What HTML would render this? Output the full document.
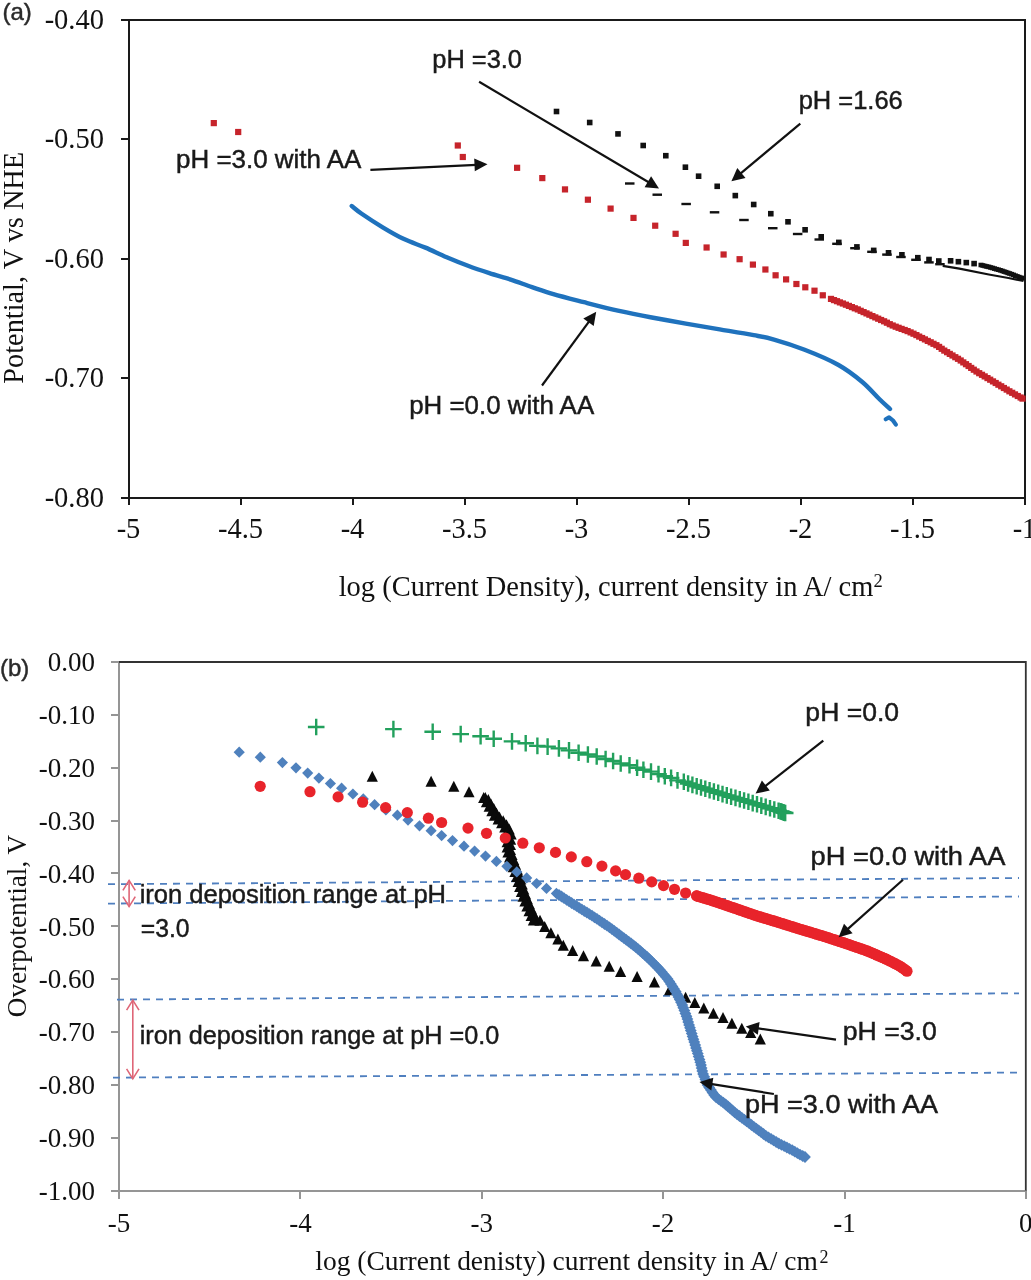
<!DOCTYPE html>
<html><head><meta charset="utf-8"><title>Polarization curves</title>
<style>
html,body{margin:0;padding:0;background:#fff;}
body{width:1031px;height:1280px;overflow:hidden;font-family:"Liberation Sans",sans-serif;}
svg{display:block;filter:blur(0.45px);}
</style></head><body>
<svg width="1031" height="1280" viewBox="0 0 1031 1280">
<rect width="1031" height="1280" fill="#fff"/>
<g stroke="#1a1a1a" stroke-width="2" fill="none" shape-rendering="crispEdges">
<line x1="120.5" y1="20" x2="1025.5" y2="20"/>
<line x1="128.5" y1="19" x2="128.5" y2="498.5"/>
<line x1="120.5" y1="497.5" x2="1025.5" y2="497.5"/>
<line x1="1024.5" y1="19" x2="1024.5" y2="505"/>
<line x1="120.5" y1="139.4" x2="128.5" y2="139.4"/>
<line x1="120.5" y1="258.8" x2="128.5" y2="258.8"/>
<line x1="120.5" y1="378.1" x2="128.5" y2="378.1"/>
<line x1="128.5" y1="497" x2="128.5" y2="505"/>
<line x1="240.5" y1="497" x2="240.5" y2="505"/>
<line x1="352.5" y1="497" x2="352.5" y2="505"/>
<line x1="464.5" y1="497" x2="464.5" y2="505"/>
<line x1="576.5" y1="497" x2="576.5" y2="505"/>
<line x1="688.5" y1="497" x2="688.5" y2="505"/>
<line x1="800.5" y1="497" x2="800.5" y2="505"/>
<line x1="912.5" y1="497" x2="912.5" y2="505"/>
<line x1="1024.5" y1="497" x2="1024.5" y2="505"/>
</g>
<g font-family="Liberation Serif, serif" font-size="28.5" fill="#111">
<text x="104" y="29" text-anchor="end">-0.40</text>
<text x="104" y="148.4" text-anchor="end">-0.50</text>
<text x="104" y="267.8" text-anchor="end">-0.60</text>
<text x="104" y="387.1" text-anchor="end">-0.70</text>
<text x="104" y="506.5" text-anchor="end">-0.80</text>
<text x="128.5" y="538" text-anchor="middle">-5</text>
<text x="240.5" y="538" text-anchor="middle">-4.5</text>
<text x="352.5" y="538" text-anchor="middle">-4</text>
<text x="464.5" y="538" text-anchor="middle">-3.5</text>
<text x="576.5" y="538" text-anchor="middle">-3</text>
<text x="688.5" y="538" text-anchor="middle">-2.5</text>
<text x="800.5" y="538" text-anchor="middle">-2</text>
<text x="912.5" y="538" text-anchor="middle">-1.5</text>
<text x="1024.5" y="538" text-anchor="middle">-1</text>
<text x="338.68" y="596" textLength="534.7" lengthAdjust="spacingAndGlyphs">log (Current Density), current density in A/ cm</text>
<text x="873.5" y="587" font-size="18.5">2</text>
<g transform="translate(22.5,382.7) rotate(-90)"><text x="-1.01" y="0" textLength="231.83" lengthAdjust="spacingAndGlyphs">Potential, V vs NHE</text></g>
</g>
<path d="M351.7 206C353.3 207.2 356.1 209.9 361.3 213.5C366.5 217.1 375.6 223 382.7 227.3C389.8 231.6 396.9 235.7 404 239.1C411.1 242.5 418.3 244.6 425.4 247.6C432.5 250.6 439.6 254.2 446.7 257.2C453.8 260.2 460.9 263.1 468 265.8C475.1 268.5 482.3 270.9 489.4 273.2C496.5 275.5 503.6 277.3 510.7 279.6C517.8 281.9 524.9 284.7 532 287.1C539.1 289.5 544.7 291.6 553.4 294.1C562.1 296.6 573.2 299.4 584 302.2C594.8 305 606.6 308.1 617.9 310.7C629.2 313.2 640.5 315.4 651.8 317.5C663.1 319.6 674.5 321.6 685.8 323.6C697.1 325.6 708.4 327.5 719.7 329.4C731 331.3 744.7 333.5 753.7 335.2C762.8 336.9 765.5 337.2 774 339.6C782.5 342 793.9 345.6 804.6 349.8C815.4 354 828.9 359.6 838.5 365C848.1 370.4 855.5 376.3 862.3 382C869.1 387.7 874.7 394.5 879.3 399C883.9 403.5 888.2 407.3 890 409" fill="none" stroke="#1f72bd" stroke-width="4.4" stroke-linejoin="round" stroke-linecap="round"/>
<polyline points="885.7,419.3 889.1,417.3 893,420.5 895.9,424.6" fill="none" stroke="#1f72bd" stroke-width="4.2" stroke-linecap="round" stroke-linejoin="round"/>
<g fill="#c6242b">
<rect x="210.7" y="120" width="6.2" height="6.2"/>
<rect x="235.1" y="128.9" width="6.2" height="6.2"/>
<rect x="454.7" y="142.4" width="6.2" height="6.2"/>
<rect x="459.7" y="153.9" width="6.2" height="6.2"/>
<rect x="514" y="164.7" width="6.2" height="6.2"/>
<rect x="539.2" y="175" width="6.2" height="6.2"/>
<rect x="561.9" y="186.3" width="6.2" height="6.2"/>
<rect x="584.8" y="196.6" width="6.2" height="6.2"/>
<rect x="607.5" y="205.5" width="6.2" height="6.2"/>
<rect x="630.4" y="214.8" width="6.2" height="6.2"/>
<rect x="652.1" y="222.6" width="6.2" height="6.2"/>
<rect x="672.5" y="230.7" width="6.2" height="6.2"/>
<rect x="682.7" y="239.8" width="6.2" height="6.2"/>
<rect x="703.5" y="244.4" width="6.2" height="6.2"/>
<rect x="720.5" y="251.4" width="6.2" height="6.2"/>
<rect x="736.5" y="256.1" width="6.2" height="6.2"/>
<rect x="749.8" y="261.5" width="6.2" height="6.2"/>
<rect x="762.3" y="266.4" width="6.2" height="6.2"/>
<rect x="772.5" y="272.2" width="6.2" height="6.2"/>
<rect x="783" y="276.3" width="6.2" height="6.2"/>
<rect x="793.3" y="280.9" width="6.2" height="6.2"/>
<rect x="802.2" y="284.2" width="6.2" height="6.2"/>
<rect x="811.4" y="287.6" width="6.2" height="6.2"/>
<rect x="819.7" y="292.2" width="6.2" height="6.2"/>
<rect x="827.9" y="295.8" width="6.2" height="6.2"/>
<rect x="830.9" y="297" width="6.2" height="6.2"/>
<rect x="833.9" y="298.1" width="6.2" height="6.2"/>
<rect x="836.8" y="299.3" width="6.2" height="6.2"/>
<rect x="839.8" y="300.4" width="6.2" height="6.2"/>
<rect x="842.8" y="301.6" width="6.2" height="6.2"/>
<rect x="845.8" y="302.8" width="6.2" height="6.2"/>
<rect x="848.8" y="304" width="6.2" height="6.2"/>
<rect x="851.7" y="305.2" width="6.2" height="6.2"/>
<rect x="854.7" y="306.3" width="6.2" height="6.2"/>
<rect x="857.6" y="307.7" width="6.2" height="6.2"/>
<rect x="860.5" y="309" width="6.2" height="6.2"/>
<rect x="863.4" y="310.3" width="6.2" height="6.2"/>
<rect x="866.3" y="311.6" width="6.2" height="6.2"/>
<rect x="869.3" y="313" width="6.2" height="6.2"/>
<rect x="872.2" y="314.3" width="6.2" height="6.2"/>
<rect x="875.1" y="315.6" width="6.2" height="6.2"/>
<rect x="878" y="316.9" width="6.2" height="6.2"/>
<rect x="881" y="318.2" width="6.2" height="6.2"/>
<rect x="883.8" y="319.6" width="6.2" height="6.2"/>
<rect x="886.7" y="321.1" width="6.2" height="6.2"/>
<rect x="889.6" y="322.4" width="6.2" height="6.2"/>
<rect x="892.6" y="323.6" width="6.2" height="6.2"/>
<rect x="895.5" y="324.7" width="6.2" height="6.2"/>
<rect x="898.5" y="325.8" width="6.2" height="6.2"/>
<rect x="901.6" y="326.9" width="6.2" height="6.2"/>
<rect x="904.5" y="328" width="6.2" height="6.2"/>
<rect x="907.5" y="329.3" width="6.2" height="6.2"/>
<rect x="910.4" y="330.6" width="6.2" height="6.2"/>
<rect x="913.3" y="332" width="6.2" height="6.2"/>
<rect x="916.1" y="333.5" width="6.2" height="6.2"/>
<rect x="919" y="334.9" width="6.2" height="6.2"/>
<rect x="921.8" y="336.3" width="6.2" height="6.2"/>
<rect x="924.7" y="337.8" width="6.2" height="6.2"/>
<rect x="927.6" y="339.2" width="6.2" height="6.2"/>
<rect x="930.4" y="340.7" width="6.2" height="6.2"/>
<rect x="933.3" y="342.1" width="6.2" height="6.2"/>
<rect x="936" y="343.8" width="6.2" height="6.2"/>
<rect x="938.6" y="345.7" width="6.2" height="6.2"/>
<rect x="941.2" y="347.5" width="6.2" height="6.2"/>
<rect x="944" y="349.1" width="6.2" height="6.2"/>
<rect x="946.7" y="350.8" width="6.2" height="6.2"/>
<rect x="949.4" y="352.4" width="6.2" height="6.2"/>
<rect x="952.2" y="354.1" width="6.2" height="6.2"/>
<rect x="954.9" y="355.7" width="6.2" height="6.2"/>
<rect x="957.6" y="357.4" width="6.2" height="6.2"/>
<rect x="960.2" y="359.3" width="6.2" height="6.2"/>
<rect x="962.9" y="361.1" width="6.2" height="6.2"/>
<rect x="965.5" y="362.9" width="6.2" height="6.2"/>
<rect x="968.1" y="364.8" width="6.2" height="6.2"/>
<rect x="970.7" y="366.6" width="6.2" height="6.2"/>
<rect x="973.4" y="368.4" width="6.2" height="6.2"/>
<rect x="976.1" y="370.1" width="6.2" height="6.2"/>
<rect x="978.9" y="371.7" width="6.2" height="6.2"/>
<rect x="981.6" y="373.3" width="6.2" height="6.2"/>
<rect x="984.4" y="375" width="6.2" height="6.2"/>
<rect x="987.1" y="376.6" width="6.2" height="6.2"/>
<rect x="989.9" y="378.3" width="6.2" height="6.2"/>
<rect x="992.6" y="379.9" width="6.2" height="6.2"/>
<rect x="995.3" y="381.6" width="6.2" height="6.2"/>
<rect x="998.1" y="383.2" width="6.2" height="6.2"/>
<rect x="1000.8" y="384.9" width="6.2" height="6.2"/>
<rect x="1003.6" y="386.5" width="6.2" height="6.2"/>
<rect x="1006.3" y="388.2" width="6.2" height="6.2"/>
<rect x="1009.1" y="389.7" width="6.2" height="6.2"/>
<rect x="1011.9" y="391.3" width="6.2" height="6.2"/>
<rect x="1014.7" y="392.9" width="6.2" height="6.2"/>
<rect x="1017.5" y="394.4" width="6.2" height="6.2"/>
<rect x="1019.4" y="395.5" width="6.2" height="6.2"/>
</g>
<g fill="#111">
<rect x="553.7" y="108.7" width="5.6" height="5.6"/>
<rect x="586.9" y="119.7" width="5.6" height="5.6"/>
<rect x="615.2" y="131.1" width="5.6" height="5.6"/>
<rect x="640.4" y="142.7" width="5.6" height="5.6"/>
<rect x="663" y="152.9" width="5.6" height="5.6"/>
<rect x="682.6" y="164.4" width="5.6" height="5.6"/>
<rect x="695.8" y="173.4" width="5.6" height="5.6"/>
<rect x="714.4" y="183.5" width="5.6" height="5.6"/>
<rect x="732.5" y="192.8" width="5.6" height="5.6"/>
<rect x="750.9" y="201.7" width="5.6" height="5.6"/>
<rect x="768" y="210.9" width="5.6" height="5.6"/>
<rect x="785.2" y="219" width="5.6" height="5.6"/>
<rect x="802.3" y="227" width="5.6" height="5.6"/>
<rect x="818.4" y="234" width="5.6" height="5.6"/>
<rect x="836" y="239.6" width="5.6" height="5.6"/>
<rect x="854.1" y="244.1" width="5.6" height="5.6"/>
<rect x="870.9" y="247.6" width="5.6" height="5.6"/>
<rect x="885.7" y="250" width="5.6" height="5.6"/>
<rect x="899.1" y="252" width="5.6" height="5.6"/>
<rect x="915" y="254.9" width="5.6" height="5.6"/>
<rect x="926.2" y="256.7" width="5.6" height="5.6"/>
<rect x="936" y="258.2" width="5.6" height="5.6"/>
<rect x="947.8" y="258" width="5.6" height="5.6"/>
<rect x="955.6" y="258.9" width="5.6" height="5.6"/>
<rect x="963.5" y="259.8" width="5.6" height="5.6"/>
<rect x="971.3" y="260.8" width="5.6" height="5.6"/>
<rect x="978.5" y="262.7" width="5" height="4.6"/>
<rect x="980.4" y="263.2" width="5" height="4.6"/>
<rect x="982.4" y="263.7" width="5" height="4.6"/>
<rect x="984.3" y="264.2" width="5" height="4.6"/>
<rect x="986.3" y="264.6" width="5" height="4.6"/>
<rect x="988.2" y="265.2" width="5" height="4.6"/>
<rect x="990.1" y="265.7" width="5" height="4.6"/>
<rect x="992" y="266.3" width="5" height="4.6"/>
<rect x="993.9" y="266.9" width="5" height="4.6"/>
<rect x="995.9" y="267.4" width="5" height="4.6"/>
<rect x="997.8" y="268" width="5" height="4.6"/>
<rect x="999.7" y="268.6" width="5" height="4.6"/>
<rect x="1001.6" y="269.3" width="5" height="4.6"/>
<rect x="1003.5" y="269.9" width="5" height="4.6"/>
<rect x="1005.4" y="270.6" width="5" height="4.6"/>
<rect x="1007.2" y="271.2" width="5" height="4.6"/>
<rect x="1009.1" y="271.9" width="5" height="4.6"/>
<rect x="1011" y="272.6" width="5" height="4.6"/>
<rect x="1012.9" y="273.4" width="5" height="4.6"/>
<rect x="1014.7" y="274.1" width="5" height="4.6"/>
<rect x="1016.6" y="274.8" width="5" height="4.6"/>
<rect x="1018.5" y="275.5" width="5" height="4.6"/>
<rect x="1019.5" y="275.9" width="5" height="4.6"/>
<rect x="625" y="182.3" width="9.5" height="2.4"/>
<rect x="652.5" y="193.5" width="9.5" height="2.4"/>
<rect x="681.4" y="202.8" width="9.5" height="2.4"/>
<rect x="709.8" y="211.1" width="9.5" height="2.4"/>
<rect x="739.2" y="218.8" width="9.5" height="2.4"/>
<rect x="768" y="227" width="9.5" height="2.4"/>
<rect x="792.9" y="232.8" width="9.5" height="2.4"/>
<rect x="814.5" y="238.3" width="9.5" height="2.4"/>
<rect x="832.2" y="242.6" width="9.5" height="2.4"/>
<rect x="850.2" y="247" width="9.5" height="2.4"/>
<rect x="867.2" y="250.6" width="9.5" height="2.4"/>
<rect x="882.2" y="253.4" width="9.5" height="2.4"/>
<rect x="896.2" y="255.8" width="9.5" height="2.4"/>
<rect x="911.2" y="258.6" width="9.5" height="2.4"/>
<rect x="924.2" y="261.2" width="9.5" height="2.4"/>
<rect x="935.2" y="263" width="9.5" height="2.4"/>
</g>
<polyline points="942.7,265.8 959.4,268.7 988.8,274.5 1008.4,278 1023.5,281" fill="none" stroke="#111" stroke-width="2.2"/>
<g font-family="Liberation Sans, sans-serif" font-size="25" fill="#1a1a1a" stroke="#1a1a1a" stroke-width="0.45">
<text x="432.27" y="67.8" textLength="89.72" lengthAdjust="spacingAndGlyphs">pH =3.0</text>
<text x="798.66" y="109" textLength="104.13" lengthAdjust="spacingAndGlyphs">pH =1.66</text>
<text x="176.02" y="167.6" textLength="185.34" lengthAdjust="spacingAndGlyphs">pH =3.0 with AA</text>
<text x="409.23" y="413.6" textLength="184.93" lengthAdjust="spacingAndGlyphs">pH =0.0 with AA</text>
<text x="2.5" y="19.5" font-size="24" fill="#2a2a2a" stroke="#2a2a2a">(a)</text>
</g>
<line x1="479.1" y1="81.8" x2="649.5" y2="182.8" stroke="#111" stroke-width="2.2"/><polygon points="659,188.4 644.6,187.3 651.1,176.3" fill="#111"/>
<line x1="800.3" y1="123.6" x2="739.8" y2="174.2" stroke="#111" stroke-width="2.2"/><polygon points="731.4,181.3 737.3,168 745.5,177.9" fill="#111"/>
<line x1="370.4" y1="169.9" x2="476.5" y2="164.8" stroke="#111" stroke-width="2.2"/><polygon points="487.5,164.3 474.8,171.3 474.2,158.5" fill="#111"/>
<line x1="542" y1="385.5" x2="589.7" y2="320.7" stroke="#111" stroke-width="2.2"/><polygon points="596.2,311.8 593.7,326.1 583.3,318.5" fill="#111"/>
<g stroke="#959595" stroke-width="2" fill="none" shape-rendering="crispEdges">
<line x1="119" y1="662" x2="119" y2="1191"/>
<line x1="119" y1="1190.5" x2="1026" y2="1190.5"/>
<line x1="111" y1="661.9" x2="119" y2="661.9"/>
<line x1="111" y1="714.8" x2="119" y2="714.8"/>
<line x1="111" y1="767.6" x2="119" y2="767.6"/>
<line x1="111" y1="820.5" x2="119" y2="820.5"/>
<line x1="111" y1="873.3" x2="119" y2="873.3"/>
<line x1="111" y1="926.2" x2="119" y2="926.2"/>
<line x1="111" y1="979.1" x2="119" y2="979.1"/>
<line x1="111" y1="1031.9" x2="119" y2="1031.9"/>
<line x1="111" y1="1084.8" x2="119" y2="1084.8"/>
<line x1="111" y1="1137.6" x2="119" y2="1137.6"/>
<line x1="111" y1="1190.5" x2="119" y2="1190.5"/>
<line x1="119.1" y1="1190" x2="119.1" y2="1198.5"/>
<line x1="300.4" y1="1190" x2="300.4" y2="1198.5"/>
<line x1="481.8" y1="1190" x2="481.8" y2="1198.5"/>
<line x1="663.1" y1="1190" x2="663.1" y2="1198.5"/>
<line x1="844.5" y1="1190" x2="844.5" y2="1198.5"/>
<line x1="1025.8" y1="1190" x2="1025.8" y2="1198.5"/>
</g>
<g stroke="#333" stroke-width="1.8" fill="none">
<polyline points="119,662 1025.8,662 1025.8,1190.5"/>
</g>
<g font-family="Liberation Serif, serif" font-size="27" fill="#111">
<text x="95" y="671.2" text-anchor="end">0.00</text>
<text x="95" y="724.1" text-anchor="end">-0.10</text>
<text x="95" y="776.9" text-anchor="end">-0.20</text>
<text x="95" y="829.8" text-anchor="end">-0.30</text>
<text x="95" y="882.6" text-anchor="end">-0.40</text>
<text x="95" y="935.5" text-anchor="end">-0.50</text>
<text x="95" y="988.4" text-anchor="end">-0.60</text>
<text x="95" y="1041.2" text-anchor="end">-0.70</text>
<text x="95" y="1094.1" text-anchor="end">-0.80</text>
<text x="95" y="1146.9" text-anchor="end">-0.90</text>
<text x="95" y="1199.8" text-anchor="end">-1.00</text>
<text x="119.1" y="1232" text-anchor="middle">-5</text>
<text x="300.4" y="1232" text-anchor="middle">-4</text>
<text x="481.8" y="1232" text-anchor="middle">-3</text>
<text x="663.1" y="1232" text-anchor="middle">-2</text>
<text x="844.5" y="1232" text-anchor="middle">-1</text>
<text x="1025.8" y="1232" text-anchor="middle">0</text>
<text x="315.32" y="1270" textLength="502.52" lengthAdjust="spacingAndGlyphs" font-size="28">log (Current denisty) current density in A/ cm</text>
<text x="819.5" y="1262.5" font-size="18">2</text>
<g transform="translate(25.8,1016.3) rotate(-90)"><text x="-0.97" y="0" textLength="182.43" lengthAdjust="spacingAndGlyphs" font-size="28">Overpotential, V</text></g>
</g>
<g stroke="#4f7fbf" stroke-width="1.8" stroke-dasharray="7 6" fill="none">
<line x1="108" y1="884.2" x2="1019" y2="878"/>
<line x1="108" y1="903.6" x2="1019" y2="896.5"/>
<line x1="117" y1="999.6" x2="1019" y2="993.3"/>
<line x1="113" y1="1077.6" x2="1019" y2="1072.6"/>
</g>
<g stroke="#df6677" stroke-width="1.6" fill="none"><line x1="129.1" y1="880.4" x2="129.1" y2="906.6"/><polyline points="122.9,890.4 129.1,880.4 135.3,890.4"/><polyline points="122.9,896.6 129.1,906.6 135.3,896.6"/></g>
<g stroke="#df6677" stroke-width="1.6" fill="none"><line x1="132.8" y1="1000.2" x2="132.8" y2="1078.8"/><polyline points="126.6,1010.2 132.8,1000.2 139,1010.2"/><polyline points="126.6,1068.8 132.8,1078.8 139,1068.8"/></g>
<g fill="#0a0a0a">
<path d="M372.3 770.7L377.9 781.7L366.7 781.7Z"/>
<path d="M431.1 775.8L436.7 786.8L425.5 786.8Z"/>
<path d="M453.8 780.8L459.4 791.8L448.2 791.8Z"/>
<path d="M469 786.2L474.6 797.2L463.4 797.2Z"/>
<path d="M485.3 791.9L490.9 802.9L479.7 802.9Z"/>
<path d="M540 914.8L545.6 925.8L534.4 925.8Z"/>
<path d="M544.7 921L550.3 932L539.1 932Z"/>
<path d="M550.9 927.3L556.5 938.3L545.3 938.3Z"/>
<path d="M557.9 933.5L563.5 944.5L552.3 944.5Z"/>
<path d="M563.3 939.7L568.9 950.7L557.7 950.7Z"/>
<path d="M572.6 945.1L578.2 956.1L567 956.1Z"/>
<path d="M583.5 950.2L589.1 961.2L577.9 961.2Z"/>
<path d="M596.2 955.4L601.8 966.4L590.6 966.4Z"/>
<path d="M609.2 960.7L614.8 971.7L603.6 971.7Z"/>
<path d="M620.6 966.1L626.2 977.1L615 977.1Z"/>
<path d="M637.1 971.1L642.7 982.1L631.5 982.1Z"/>
<path d="M654.4 976.5L660 987.5L648.8 987.5Z"/>
<path d="M669.6 984.3L675.2 995.3L664 995.3Z"/>
<path d="M685.6 991.8L691.2 1002.8L680 1002.8Z"/>
<path d="M694.8 997.1L700.4 1008.1L689.2 1008.1Z"/>
<path d="M703.8 1002.4L709.4 1013.4L698.2 1013.4Z"/>
<path d="M713.4 1007.8L719 1018.8L707.8 1018.8Z"/>
<path d="M723 1012L728.6 1023L717.4 1023Z"/>
<path d="M731.9 1017.8L737.5 1028.8L726.3 1028.8Z"/>
<path d="M741.8 1022.7L747.4 1033.7L736.2 1033.7Z"/>
<path d="M750.7 1027L756.3 1038L745.1 1038Z"/>
<path d="M760.3 1033.4L765.9 1044.4L754.7 1044.4Z"/>
<path d="M483.7 791.9L489.3 802.9L478.1 802.9Z"/>
<path d="M488.3 794.1L493.9 805.1L482.7 805.1Z"/>
<path d="M486.5 796.3L492.1 807.3L480.9 807.3Z"/>
<path d="M491 798.5L496.6 809.5L485.4 809.5Z"/>
<path d="M489.2 800.7L494.8 811.7L483.6 811.7Z"/>
<path d="M493.8 803L499.4 814L488.2 814Z"/>
<path d="M491.9 805.2L497.5 816.2L486.3 816.2Z"/>
<path d="M496.4 807.4L502 818.4L490.8 818.4Z"/>
<path d="M494.5 809.7L500.1 820.7L488.9 820.7Z"/>
<path d="M499.5 811.5L505.1 822.5L493.9 822.5Z"/>
<path d="M498.2 813.4L503.8 824.4L492.6 824.4Z"/>
<path d="M503.2 815.2L508.8 826.2L497.6 826.2Z"/>
<path d="M501.7 817.2L507.3 828.2L496.1 828.2Z"/>
<path d="M506.5 819.3L512.1 830.3L500.9 830.3Z"/>
<path d="M504.8 821.4L510.4 832.4L499.2 832.4Z"/>
<path d="M509.2 823.6L514.8 834.6L503.6 834.6Z"/>
<path d="M506.9 826.1L512.5 837.1L501.3 837.1Z"/>
<path d="M511.1 828.5L516.7 839.5L505.5 839.5Z"/>
<path d="M507.7 831.1L513.3 842.1L502.1 842.1Z"/>
<path d="M510.6 833.7L516.2 844.7L505 844.7Z"/>
<path d="M507.2 836.3L512.8 847.3L501.6 847.3Z"/>
<path d="M510.4 838.9L516 849.9L504.8 849.9Z"/>
<path d="M507.2 841.5L512.8 852.5L501.6 852.5Z"/>
<path d="M510.4 844.1L516 855.1L504.8 855.1Z"/>
<path d="M508 846.5L513.6 857.5L502.4 857.5Z"/>
<path d="M512 849L517.6 860L506.4 860Z"/>
<path d="M509.6 851.5L515.2 862.5L504 862.5Z"/>
<path d="M513.6 853.9L519.2 864.9L508 864.9Z"/>
<path d="M511.3 856.4L516.9 867.4L505.7 867.4Z"/>
<path d="M515.5 858.8L521.1 869.8L509.9 869.8Z"/>
<path d="M513.2 861.2L518.8 872.2L507.6 872.2Z"/>
<path d="M517.3 863.7L522.9 874.7L511.7 874.7Z"/>
<path d="M515 866.1L520.6 877.1L509.4 877.1Z"/>
<path d="M519 868.6L524.6 879.6L513.4 879.6Z"/>
<path d="M516.7 871L522.3 882L511.1 882Z"/>
<path d="M520.7 873.5L526.3 884.5L515.1 884.5Z"/>
<path d="M518.2 876L523.8 887L512.6 887Z"/>
<path d="M522.2 878.5L527.8 889.5L516.6 889.5Z"/>
<path d="M519.7 881L525.3 892L514.1 892Z"/>
<path d="M523.7 883.4L529.3 894.4L518.1 894.4Z"/>
<path d="M521.4 885.9L527 896.9L515.8 896.9Z"/>
<path d="M525.4 888.3L531 899.3L519.8 899.3Z"/>
<path d="M523.1 890.8L528.7 901.8L517.5 901.8Z"/>
<path d="M527.3 893.2L532.9 904.2L521.7 904.2Z"/>
<path d="M525 895.6L530.6 906.6L519.4 906.6Z"/>
<path d="M529.2 898L534.8 909L523.6 909Z"/>
<path d="M527 900.4L532.6 911.4L521.4 911.4Z"/>
<path d="M531.2 902.8L536.8 913.8L525.6 913.8Z"/>
<path d="M529.1 905.2L534.7 916.2L523.5 916.2Z"/>
<path d="M533.3 907.6L538.9 918.6L527.7 918.6Z"/>
<path d="M531.2 909.9L536.8 920.9L525.6 920.9Z"/>
<path d="M535.5 912.3L541.1 923.3L529.9 923.3Z"/>
<path d="M533.4 914.5L539 925.5L527.8 925.5Z"/>
</g>
<g fill="#4f81bd">
<path d="M239.2 746.6L244.8 752.2L239.2 757.8L233.6 752.2Z"/>
<path d="M260.3 751.6L265.9 757.2L260.3 762.8L254.7 757.2Z"/>
<path d="M282.4 757L288 762.6L282.4 768.2L276.8 762.6Z"/>
<path d="M296 762.2L301.6 767.8L296 773.4L290.4 767.8Z"/>
<path d="M307.7 767.5L313.3 773.1L307.7 778.7L302.1 773.1Z"/>
<path d="M318.9 772.5L324.5 778.1L318.9 783.7L313.3 778.1Z"/>
<path d="M330.4 777.9L336 783.5L330.4 789.1L324.8 783.5Z"/>
<path d="M341.6 782.6L347.2 788.2L341.6 793.8L336 788.2Z"/>
<path d="M352.9 788.4L358.5 794L352.9 799.6L347.3 794Z"/>
<path d="M363.3 793.3L368.9 798.9L363.3 804.5L357.7 798.9Z"/>
<path d="M374.6 799.1L380.2 804.7L374.6 810.3L369 804.7Z"/>
<path d="M385.9 804.3L391.5 809.9L385.9 815.5L380.3 809.9Z"/>
<path d="M397.4 809.6L403 815.2L397.4 820.8L391.8 815.2Z"/>
<path d="M408 814.5L413.6 820.1L408 825.7L402.4 820.1Z"/>
<path d="M419.5 820.2L425.1 825.8L419.5 831.4L413.9 825.8Z"/>
<path d="M431.1 825.1L436.7 830.7L431.1 836.3L425.5 830.7Z"/>
<path d="M441.6 830L447.2 835.6L441.6 841.2L436 835.6Z"/>
<path d="M452.5 835L458.1 840.6L452.5 846.2L446.9 840.6Z"/>
<path d="M464 840.6L469.6 846.2L464 851.8L458.4 846.2Z"/>
<path d="M474.6 845.5L480.2 851.1L474.6 856.7L469 851.1Z"/>
<path d="M485.5 850.5L491.1 856.1L485.5 861.7L479.9 856.1Z"/>
<path d="M496.4 855.8L502 861.4L496.4 867L490.8 861.4Z"/>
<path d="M506.9 860.7L512.5 866.3L506.9 871.9L501.3 866.3Z"/>
<path d="M516.8 866.3L522.4 871.9L516.8 877.5L511.2 871.9Z"/>
<path d="M526.7 872.3L532.3 877.9L526.7 883.5L521.1 877.9Z"/>
<path d="M536.6 877.9L542.2 883.5L536.6 889.1L531 883.5Z"/>
<path d="M546.5 882.8L552.1 888.4L546.5 894L540.9 888.4Z"/>
<path d="M556.4 887.8L562 893.4L556.4 899L550.8 893.4Z"/>
<path d="M559 889.1L564.9 895L559 900.9L553.1 895Z"/>
<path d="M561.5 890.6L567.4 896.5L561.5 902.4L555.6 896.5Z"/>
<path d="M564 892.3L569.9 898.2L564 904.1L558.1 898.2Z"/>
<path d="M566.6 893.9L572.5 899.8L566.6 905.7L560.7 899.8Z"/>
<path d="M569.1 895.5L575 901.4L569.1 907.3L563.2 901.4Z"/>
<path d="M571.6 897.1L577.5 903L571.6 908.9L565.7 903Z"/>
<path d="M574.1 898.7L580 904.6L574.1 910.5L568.2 904.6Z"/>
<path d="M576.7 900.3L582.6 906.2L576.7 912.1L570.8 906.2Z"/>
<path d="M579.2 901.9L585.1 907.8L579.2 913.7L573.3 907.8Z"/>
<path d="M581.8 903.5L587.7 909.4L581.8 915.3L575.9 909.4Z"/>
<path d="M584.3 905.1L590.2 911L584.3 916.9L578.4 911Z"/>
<path d="M586.9 906.6L592.8 912.5L586.9 918.4L581 912.5Z"/>
<path d="M589.4 908.2L595.3 914.1L589.4 920L583.5 914.1Z"/>
<path d="M592 909.8L597.9 915.7L592 921.6L586.1 915.7Z"/>
<path d="M594.5 911.4L600.4 917.3L594.5 923.2L588.6 917.3Z"/>
<path d="M597 913L602.9 918.9L597 924.8L591.1 918.9Z"/>
<path d="M599.5 914.7L605.4 920.6L599.5 926.5L593.6 920.6Z"/>
<path d="M602 916.4L607.9 922.3L602 928.2L596.1 922.3Z"/>
<path d="M604.5 918.1L610.4 924L604.5 929.9L598.6 924Z"/>
<path d="M607 919.7L612.9 925.6L607 931.5L601.1 925.6Z"/>
<path d="M609.5 921.4L615.4 927.3L609.5 933.2L603.6 927.3Z"/>
<path d="M611.9 923.2L617.8 929.1L611.9 935L606 929.1Z"/>
<path d="M614.3 925L620.2 930.9L614.3 936.8L608.4 930.9Z"/>
<path d="M616.7 926.8L622.6 932.7L616.7 938.6L610.8 932.7Z"/>
<path d="M619.1 928.6L625 934.5L619.1 940.4L613.2 934.5Z"/>
<path d="M621.5 930.4L627.4 936.3L621.5 942.2L615.6 936.3Z"/>
<path d="M623.9 932.2L629.8 938.1L623.9 944L618 938.1Z"/>
<path d="M626.3 934L632.2 939.9L626.3 945.8L620.4 939.9Z"/>
<path d="M628.7 935.8L634.6 941.7L628.7 947.6L622.8 941.7Z"/>
<path d="M631.1 937.6L637 943.5L631.1 949.4L625.2 943.5Z"/>
<path d="M633.5 939.4L639.4 945.3L633.5 951.2L627.6 945.3Z"/>
<path d="M635.8 941.3L641.7 947.2L635.8 953.1L629.9 947.2Z"/>
<path d="M638.1 943.2L644 949.1L638.1 955L632.2 949.1Z"/>
<path d="M640.4 945.2L646.3 951.1L640.4 957L634.5 951.1Z"/>
<path d="M642.6 947.2L648.5 953.1L642.6 959L636.7 953.1Z"/>
<path d="M644.9 949.2L650.8 955.1L644.9 961L639 955.1Z"/>
<path d="M647.1 951.1L653 957L647.1 962.9L641.2 957Z"/>
<path d="M649.3 953.2L655.2 959.1L649.3 965L643.4 959.1Z"/>
<path d="M651.4 955.3L657.3 961.2L651.4 967.1L645.5 961.2Z"/>
<path d="M653.5 957.4L659.4 963.3L653.5 969.2L647.6 963.3Z"/>
<path d="M655.7 959.6L661.6 965.5L655.7 971.4L649.8 965.5Z"/>
<path d="M657.8 961.7L663.7 967.6L657.8 973.5L651.9 967.6Z"/>
<path d="M659.8 963.9L665.7 969.8L659.8 975.7L653.9 969.8Z"/>
<path d="M661.8 966.2L667.7 972.1L661.8 978L655.9 972.1Z"/>
<path d="M663.7 968.5L669.6 974.4L663.7 980.3L657.8 974.4Z"/>
<path d="M665.7 970.8L671.6 976.7L665.7 982.6L659.8 976.7Z"/>
<path d="M667.6 973L673.5 978.9L667.6 984.8L661.7 978.9Z"/>
<path d="M669.3 975.5L675.2 981.4L669.3 987.3L663.4 981.4Z"/>
<path d="M670.9 978.1L676.8 984L670.9 989.9L665 984Z"/>
<path d="M672.5 980.6L678.4 986.5L672.5 992.4L666.6 986.5Z"/>
<path d="M674.1 983.1L680 989L674.1 994.9L668.2 989Z"/>
<path d="M675.7 985.7L681.6 991.6L675.7 997.5L669.8 991.6Z"/>
<path d="M677 988.3L682.9 994.2L677 1000.1L671.1 994.2Z"/>
<path d="M678.4 991L684.3 996.9L678.4 1002.8L672.5 996.9Z"/>
<path d="M679.7 993.7L685.6 999.6L679.7 1005.5L673.8 999.6Z"/>
<path d="M681 996.4L686.9 1002.3L681 1008.2L675.1 1002.3Z"/>
<path d="M682.3 999.1L688.2 1005L682.3 1010.9L676.4 1005Z"/>
<path d="M683.3 1001.9L689.2 1007.8L683.3 1013.7L677.4 1007.8Z"/>
<path d="M684.4 1004.7L690.3 1010.6L684.4 1016.5L678.5 1010.6Z"/>
<path d="M685.4 1007.6L691.3 1013.5L685.4 1019.4L679.5 1013.5Z"/>
<path d="M686.5 1010.4L692.4 1016.3L686.5 1022.2L680.6 1016.3Z"/>
<path d="M687.4 1013.2L693.3 1019.1L687.4 1025L681.5 1019.1Z"/>
<path d="M688.2 1016.1L694.1 1022L688.2 1027.9L682.3 1022Z"/>
<path d="M689.1 1019L695 1024.9L689.1 1030.8L683.2 1024.9Z"/>
<path d="M690 1021.9L695.9 1027.8L690 1033.7L684.1 1027.8Z"/>
<path d="M690.8 1024.7L696.7 1030.6L690.8 1036.5L684.9 1030.6Z"/>
<path d="M691.7 1027.6L697.6 1033.5L691.7 1039.4L685.8 1033.5Z"/>
<path d="M692.6 1030.5L698.5 1036.4L692.6 1042.3L686.7 1036.4Z"/>
<path d="M693.4 1033.3L699.3 1039.2L693.4 1045.1L687.5 1039.2Z"/>
<path d="M694.3 1036.2L700.2 1042.1L694.3 1048L688.4 1042.1Z"/>
<path d="M695.2 1039.1L701.1 1045L695.2 1050.9L689.3 1045Z"/>
<path d="M696 1042L701.9 1047.9L696 1053.8L690.1 1047.9Z"/>
<path d="M696.9 1044.8L702.8 1050.7L696.9 1056.6L691 1050.7Z"/>
<path d="M697.8 1047.7L703.7 1053.6L697.8 1059.5L691.9 1053.6Z"/>
<path d="M698.6 1050.6L704.5 1056.5L698.6 1062.4L692.7 1056.5Z"/>
<path d="M699.5 1053.5L705.4 1059.4L699.5 1065.3L693.6 1059.4Z"/>
<path d="M700.3 1056.3L706.2 1062.2L700.3 1068.1L694.4 1062.2Z"/>
<path d="M701 1059.2L706.9 1065.1L701 1071L695.1 1065.1Z"/>
<path d="M701.6 1062.2L707.5 1068.1L701.6 1074L695.7 1068.1Z"/>
<path d="M702.3 1065.1L708.2 1071L702.3 1076.9L696.4 1071Z"/>
<path d="M703.1 1068L709 1073.9L703.1 1079.8L697.2 1073.9Z"/>
<path d="M704.2 1070.8L710.1 1076.7L704.2 1082.6L698.3 1076.7Z"/>
<path d="M705.4 1073.5L711.3 1079.4L705.4 1085.3L699.5 1079.4Z"/>
<path d="M706.5 1076.3L712.4 1082.2L706.5 1088.1L700.6 1082.2Z"/>
<path d="M707.6 1079.1L713.5 1085L707.6 1090.9L701.7 1085Z"/>
<path d="M709.2 1081.6L715.1 1087.5L709.2 1093.4L703.3 1087.5Z"/>
<path d="M710.9 1084.1L716.8 1090L710.9 1095.9L705 1090Z"/>
<path d="M712.5 1086.6L718.4 1092.5L712.5 1098.4L706.6 1092.5Z"/>
<path d="M714.2 1089.1L720.1 1095L714.2 1100.9L708.3 1095Z"/>
<path d="M716.1 1091.4L722 1097.3L716.1 1103.2L710.2 1097.3Z"/>
<path d="M718.5 1093.2L724.4 1099.1L718.5 1105L712.6 1099.1Z"/>
<path d="M720.9 1095L726.8 1100.9L720.9 1106.8L715 1100.9Z"/>
<path d="M723.3 1096.7L729.2 1102.6L723.3 1108.5L717.4 1102.6Z"/>
<path d="M725.7 1098.6L731.6 1104.5L725.7 1110.4L719.8 1104.5Z"/>
<path d="M728 1100.6L733.9 1106.5L728 1112.4L722.1 1106.5Z"/>
<path d="M730.2 1102.5L736.1 1108.4L730.2 1114.3L724.3 1108.4Z"/>
<path d="M732.5 1104.5L738.4 1110.4L732.5 1116.3L726.6 1110.4Z"/>
<path d="M734.7 1106.5L740.6 1112.4L734.7 1118.3L728.8 1112.4Z"/>
<path d="M737.1 1108.4L743 1114.3L737.1 1120.2L731.2 1114.3Z"/>
<path d="M739.5 1110.1L745.4 1116L739.5 1121.9L733.6 1116Z"/>
<path d="M741.9 1111.9L747.8 1117.8L741.9 1123.7L736 1117.8Z"/>
<path d="M744.3 1113.7L750.2 1119.6L744.3 1125.5L738.4 1119.6Z"/>
<path d="M746.7 1115.5L752.6 1121.4L746.7 1127.3L740.8 1121.4Z"/>
<path d="M749.1 1117.3L755 1123.2L749.1 1129.1L743.2 1123.2Z"/>
<path d="M751.5 1119.1L757.4 1125L751.5 1130.9L745.6 1125Z"/>
<path d="M753.9 1120.9L759.8 1126.8L753.9 1132.7L748 1126.8Z"/>
<path d="M756.3 1122.7L762.2 1128.6L756.3 1134.5L750.4 1128.6Z"/>
<path d="M758.7 1124.5L764.6 1130.4L758.7 1136.3L752.8 1130.4Z"/>
<path d="M761.1 1126.3L767 1132.2L761.1 1138.1L755.2 1132.2Z"/>
<path d="M763.5 1128.1L769.4 1134L763.5 1139.9L757.6 1134Z"/>
<path d="M765.9 1129.9L771.8 1135.8L765.9 1141.7L760 1135.8Z"/>
<path d="M768.5 1131.5L774.4 1137.4L768.5 1143.3L762.6 1137.4Z"/>
<path d="M771.1 1133L777 1138.9L771.1 1144.8L765.2 1138.9Z"/>
<path d="M773.6 1134.5L779.5 1140.4L773.6 1146.3L767.7 1140.4Z"/>
<path d="M776.2 1136.1L782.1 1142L776.2 1147.9L770.3 1142Z"/>
<path d="M778.8 1137.6L784.7 1143.5L778.8 1149.4L772.9 1143.5Z"/>
<path d="M781.5 1138.9L787.4 1144.8L781.5 1150.7L775.6 1144.8Z"/>
<path d="M784.2 1140.2L790.1 1146.1L784.2 1152L778.3 1146.1Z"/>
<path d="M786.9 1141.6L792.8 1147.5L786.9 1153.4L781 1147.5Z"/>
<path d="M789.5 1142.9L795.4 1148.8L789.5 1154.7L783.6 1148.8Z"/>
<path d="M792.2 1144.3L798.1 1150.2L792.2 1156.1L786.3 1150.2Z"/>
<path d="M794.8 1145.8L800.7 1151.7L794.8 1157.6L788.9 1151.7Z"/>
<path d="M797.4 1147.3L803.3 1153.2L797.4 1159.1L791.5 1153.2Z"/>
<path d="M800 1148.8L805.9 1154.7L800 1160.6L794.1 1154.7Z"/>
<path d="M802.7 1150.1L808.6 1156L802.7 1161.9L796.8 1156Z"/>
<path d="M805 1151.1L810.9 1157L805 1162.9L799.1 1157Z"/>
</g>
<g fill="#e8242b">
<circle cx="260.2" cy="786.3" r="5.6"/>
<circle cx="310" cy="791.7" r="5.6"/>
<circle cx="338.1" cy="796.9" r="5.6"/>
<circle cx="362.6" cy="802.2" r="5.6"/>
<circle cx="385.6" cy="807.6" r="5.6"/>
<circle cx="407.3" cy="812.6" r="5.6"/>
<circle cx="428.4" cy="818.2" r="5.6"/>
<circle cx="441.6" cy="822.5" r="5.6"/>
<circle cx="468" cy="828.1" r="5.6"/>
<circle cx="486.5" cy="833.3" r="5.6"/>
<circle cx="505.3" cy="838" r="5.6"/>
<circle cx="522.8" cy="843.2" r="5.6"/>
<circle cx="539.3" cy="847.8" r="5.6"/>
<circle cx="555.5" cy="852.4" r="5.6"/>
<circle cx="571.3" cy="856.9" r="5.6"/>
<circle cx="586.8" cy="861.7" r="5.6"/>
<circle cx="601.9" cy="866.1" r="5.6"/>
<circle cx="615.6" cy="870.9" r="5.6"/>
<circle cx="625.5" cy="874.6" r="5.6"/>
<circle cx="638.8" cy="878.2" r="5.6"/>
<circle cx="651.7" cy="881.9" r="5.6"/>
<circle cx="663.5" cy="885.6" r="5.6"/>
<circle cx="674.5" cy="889.3" r="5.6"/>
<circle cx="685.6" cy="893" r="5.6"/>
<circle cx="696.7" cy="895.9" r="5.6"/>
<circle cx="696.7" cy="895.9" r="5.6"/>
<circle cx="698.6" cy="896.5" r="5.6"/>
<circle cx="700.5" cy="897.1" r="5.6"/>
<circle cx="702.4" cy="897.6" r="5.6"/>
<circle cx="704.4" cy="898.2" r="5.6"/>
<circle cx="706.3" cy="898.8" r="5.6"/>
<circle cx="708.2" cy="899.4" r="5.6"/>
<circle cx="710.1" cy="899.9" r="5.6"/>
<circle cx="712" cy="900.5" r="5.6"/>
<circle cx="713.9" cy="901.2" r="5.6"/>
<circle cx="715.8" cy="901.8" r="5.6"/>
<circle cx="717.7" cy="902.4" r="5.6"/>
<circle cx="719.6" cy="903.1" r="5.6"/>
<circle cx="721.5" cy="903.7" r="5.6"/>
<circle cx="723.4" cy="904.4" r="5.6"/>
<circle cx="725.3" cy="905" r="5.6"/>
<circle cx="727.2" cy="905.7" r="5.6"/>
<circle cx="729.1" cy="906.3" r="5.6"/>
<circle cx="731" cy="907" r="5.6"/>
<circle cx="732.8" cy="907.6" r="5.6"/>
<circle cx="734.7" cy="908.2" r="5.6"/>
<circle cx="736.6" cy="908.9" r="5.6"/>
<circle cx="738.5" cy="909.6" r="5.6"/>
<circle cx="740.4" cy="910.2" r="5.6"/>
<circle cx="742.3" cy="910.9" r="5.6"/>
<circle cx="744.2" cy="911.5" r="5.6"/>
<circle cx="746.1" cy="912.2" r="5.6"/>
<circle cx="748" cy="912.8" r="5.6"/>
<circle cx="749.9" cy="913.5" r="5.6"/>
<circle cx="751.8" cy="914.1" r="5.6"/>
<circle cx="753.6" cy="914.8" r="5.6"/>
<circle cx="755.5" cy="915.4" r="5.6"/>
<circle cx="757.4" cy="916.1" r="5.6"/>
<circle cx="759.3" cy="916.6" r="5.6"/>
<circle cx="761.3" cy="917.2" r="5.6"/>
<circle cx="763.2" cy="917.8" r="5.6"/>
<circle cx="765.1" cy="918.4" r="5.6"/>
<circle cx="767" cy="918.9" r="5.6"/>
<circle cx="768.9" cy="919.5" r="5.6"/>
<circle cx="770.8" cy="920.1" r="5.6"/>
<circle cx="772.8" cy="920.7" r="5.6"/>
<circle cx="774.7" cy="921.2" r="5.6"/>
<circle cx="776.6" cy="921.8" r="5.6"/>
<circle cx="778.5" cy="922.4" r="5.6"/>
<circle cx="780.4" cy="923" r="5.6"/>
<circle cx="782.3" cy="923.6" r="5.6"/>
<circle cx="784.2" cy="924.2" r="5.6"/>
<circle cx="786.1" cy="924.8" r="5.6"/>
<circle cx="788" cy="925.4" r="5.6"/>
<circle cx="790" cy="926" r="5.6"/>
<circle cx="791.9" cy="926.6" r="5.6"/>
<circle cx="793.8" cy="927.2" r="5.6"/>
<circle cx="795.7" cy="927.8" r="5.6"/>
<circle cx="797.6" cy="928.4" r="5.6"/>
<circle cx="799.5" cy="929" r="5.6"/>
<circle cx="801.4" cy="929.6" r="5.6"/>
<circle cx="803.3" cy="930.1" r="5.6"/>
<circle cx="805.2" cy="930.7" r="5.6"/>
<circle cx="807.1" cy="931.3" r="5.6"/>
<circle cx="809.1" cy="931.9" r="5.6"/>
<circle cx="811" cy="932.4" r="5.6"/>
<circle cx="812.9" cy="933" r="5.6"/>
<circle cx="814.8" cy="933.6" r="5.6"/>
<circle cx="816.7" cy="934.2" r="5.6"/>
<circle cx="818.6" cy="934.8" r="5.6"/>
<circle cx="820.6" cy="935.3" r="5.6"/>
<circle cx="822.5" cy="935.9" r="5.6"/>
<circle cx="824.4" cy="936.5" r="5.6"/>
<circle cx="826.3" cy="937.1" r="5.6"/>
<circle cx="828.2" cy="937.7" r="5.6"/>
<circle cx="830.1" cy="938.4" r="5.6"/>
<circle cx="832" cy="939" r="5.6"/>
<circle cx="833.9" cy="939.6" r="5.6"/>
<circle cx="835.8" cy="940.2" r="5.6"/>
<circle cx="837.7" cy="940.8" r="5.6"/>
<circle cx="839.6" cy="941.5" r="5.6"/>
<circle cx="841.5" cy="942.1" r="5.6"/>
<circle cx="843.4" cy="942.7" r="5.6"/>
<circle cx="845.3" cy="943.3" r="5.6"/>
<circle cx="847.2" cy="944" r="5.6"/>
<circle cx="849.1" cy="944.6" r="5.6"/>
<circle cx="851" cy="945.3" r="5.6"/>
<circle cx="852.9" cy="946" r="5.6"/>
<circle cx="854.7" cy="946.6" r="5.6"/>
<circle cx="856.6" cy="947.3" r="5.6"/>
<circle cx="858.5" cy="947.9" r="5.6"/>
<circle cx="860.4" cy="948.6" r="5.6"/>
<circle cx="862.3" cy="949.2" r="5.6"/>
<circle cx="864.2" cy="949.9" r="5.6"/>
<circle cx="866.1" cy="950.6" r="5.6"/>
<circle cx="868" cy="951.2" r="5.6"/>
<circle cx="869.8" cy="952" r="5.6"/>
<circle cx="871.6" cy="952.8" r="5.6"/>
<circle cx="873.5" cy="953.6" r="5.6"/>
<circle cx="875.3" cy="954.4" r="5.6"/>
<circle cx="877.1" cy="955.2" r="5.6"/>
<circle cx="879" cy="956" r="5.6"/>
<circle cx="880.8" cy="956.8" r="5.6"/>
<circle cx="882.6" cy="957.6" r="5.6"/>
<circle cx="884.5" cy="958.4" r="5.6"/>
<circle cx="886.3" cy="959.2" r="5.6"/>
<circle cx="888.1" cy="960.1" r="5.6"/>
<circle cx="889.9" cy="961" r="5.6"/>
<circle cx="891.7" cy="961.9" r="5.6"/>
<circle cx="893.5" cy="962.8" r="5.6"/>
<circle cx="895.2" cy="963.7" r="5.6"/>
<circle cx="897" cy="964.6" r="5.6"/>
<circle cx="898.8" cy="965.5" r="5.6"/>
<circle cx="900.5" cy="966.5" r="5.6"/>
<circle cx="902.1" cy="967.7" r="5.6"/>
<circle cx="903.8" cy="968.8" r="5.6"/>
<circle cx="905.4" cy="970" r="5.6"/>
<circle cx="907" cy="971.2" r="5.6"/>
</g>
<g stroke="#22a05c" stroke-width="2.4" fill="none">
<path d="M307.9 727H324.5M316.2 718.7V735.3"/>
<path d="M385.1 729.1H401.7M393.4 720.8V737.4"/>
<path d="M424.4 731.7H441M432.7 723.4V740"/>
<path d="M452.4 734.1H469M460.7 725.8V742.4"/>
<path d="M472.3 736.2H488.9M480.6 727.9V744.5"/>
<path d="M485.4 738.8H502M493.7 730.5V747.1"/>
<path d="M503.7 741.4H520.3M512 733.1V749.7"/>
<path d="M517.4 743.3H534M525.7 735V751.6"/>
<path d="M529.1 745.9H545.7M537.4 737.6V754.2"/>
<path d="M539.3 746.6H555.9M547.6 738.3V754.9"/>
<path d="M550.6 748.4H567.2M558.9 740.1V756.7"/>
<path d="M560.7 750.4H577.3M569 742.1V758.7"/>
<path d="M570.3 752.7H586.9M578.6 744.4V761"/>
<path d="M579.6 754.5H596.2M587.9 746.2V762.8"/>
<path d="M588.4 756.5H605M596.7 748.2V764.8"/>
<path d="M597.3 759H613.9M605.6 750.7V767.3"/>
<path d="M604.8 761H621.4M613.1 752.7V769.3"/>
<path d="M612.4 763.5H629M620.7 755.2V771.8"/>
<path d="M621.2 765.3H637.8M629.5 757V773.6"/>
<path d="M628.8 767.8H645.4M637.1 759.5V776.1"/>
<path d="M635.1 769.8H651.7M643.4 761.5V778.1"/>
<path d="M642.7 771.6H659.3M651 763.3V779.9"/>
<path d="M650.2 774.1H666.8M658.5 765.8V782.4"/>
<path d="M656.5 776.2H673.1M664.8 767.9V784.5"/>
<path d="M662.8 777.9H679.4M671.1 769.6V786.2"/>
<path d="M669.2 780.4H685.8M677.5 772.1V788.7"/>
<path d="M675.5 781.7H692.1M683.8 773.4V790"/>
<path d="M679.8 783.5H696.4M688.1 775.2V791.8"/>
<path d="M684.1 784.9H700.7M692.4 776.6V793.2"/>
<path d="M688.4 786.2H705M696.7 777.9V794.5"/>
<path d="M692.7 787.5H709.3M701 779.2V795.8"/>
<path d="M697 788.8H713.6M705.3 780.5V797.1"/>
<path d="M701.3 790.2H717.9M709.6 781.9V798.5"/>
<path d="M705.6 791.5H722.2M713.9 783.2V799.8"/>
<path d="M709.9 792.8H726.5M718.2 784.5V801.1"/>
<path d="M714.2 794.1H730.8M722.5 785.8V802.4"/>
<path d="M718.5 795.4H735.1M726.8 787.1V803.7"/>
<path d="M722.8 796.7H739.4M731.1 788.4V805"/>
<path d="M727.2 797.9H743.8M735.5 789.6V806.2"/>
<path d="M731.5 799.2H748.1M739.8 790.9V807.5"/>
<path d="M735.8 800.5H752.4M744.1 792.2V808.8"/>
<path d="M740.1 801.8H756.7M748.4 793.5V810.1"/>
<path d="M744.4 803.1H761M752.7 794.8V811.4"/>
<path d="M748.7 804.3H765.3M757 796V812.6"/>
<path d="M753 805.6H769.6M761.3 797.3V813.9"/>
<path d="M757.4 806.9H774M765.7 798.6V815.2"/>
<path d="M761.7 808.2H778.3M770 799.9V816.5"/>
<path d="M766 809.5H782.6M774.3 801.2V817.8"/>
<path d="M770.3 810.7H786.9M778.6 802.4V819"/>
<path d="M772.3 811.4H788.9M780.6 803.1V819.7"/>
<path d="M773.5 811.8H790.1M781.8 803.5V820.1"/>
<path d="M774.6 812.2H791.2M782.9 803.9V820.5"/>
<path d="M775.7 812.6H792.3M784 804.3V820.9"/>
<path d="M776.9 813H793.5M785.2 804.7V821.3"/>
</g>
<g font-family="Liberation Sans, sans-serif" font-size="25" fill="#1a1a1a" stroke="#1a1a1a" stroke-width="0.45">
<text x="805.38" y="720.8" textLength="93.67" lengthAdjust="spacingAndGlyphs">pH =0.0</text>
<text x="810.62" y="864.8" textLength="194.72" lengthAdjust="spacingAndGlyphs">pH =0.0 with AA</text>
<text x="139.66" y="903.2" textLength="306.39" lengthAdjust="spacingAndGlyphs">iron deposition range at pH</text>
<text x="140.71" y="937.2" textLength="48.85" lengthAdjust="spacingAndGlyphs">=3.0</text>
<text x="139.68" y="1043.6" textLength="359.62" lengthAdjust="spacingAndGlyphs">iron deposition range at pH =0.0</text>
<text x="842.77" y="1040.1" textLength="94.08" lengthAdjust="spacingAndGlyphs">pH =3.0</text>
<text x="744.94" y="1112.9" textLength="193.21" lengthAdjust="spacingAndGlyphs">pH =3.0 with AA</text>
<text x="0" y="676" font-size="24" fill="#2a2a2a" stroke="#2a2a2a">(b)</text>
</g>
<line x1="823.3" y1="740.6" x2="764.3" y2="786.8" stroke="#111" stroke-width="2.2"/><polygon points="755.6,793.6 761.9,780.5 769.8,790.6" fill="#111"/>
<line x1="903" y1="879.7" x2="846.8" y2="929.9" stroke="#111" stroke-width="2.2"/><polygon points="838.6,937.2 844,923.8 852.6,933.3" fill="#111"/>
<line x1="836" y1="1039.6" x2="756.7" y2="1028.2" stroke="#111" stroke-width="2.2"/><polygon points="745.8,1026.6 759.6,1022.1 757.8,1034.8" fill="#111"/>
<line x1="773.9" y1="1094" x2="710.4" y2="1083.8" stroke="#111" stroke-width="2.2"/><polygon points="699.5,1082.1 713.3,1077.8 711.3,1090.5" fill="#111"/>
</svg>
</body></html>
